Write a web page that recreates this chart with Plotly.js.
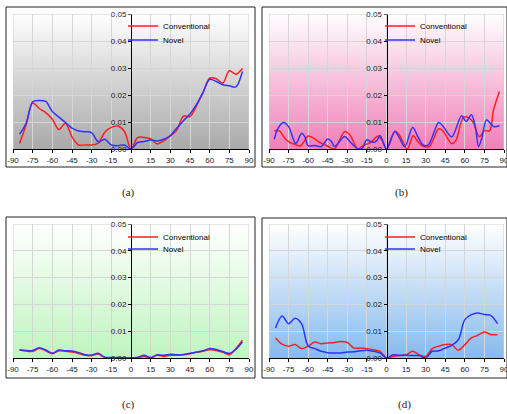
<!DOCTYPE html>
<html><head><meta charset="utf-8">
<script src="https://cdn.plot.ly/plotly-3.0.1.min.js"></script>
<style>html,body{margin:0;padding:0;background:#fff;}#chart{width:507px;height:414px;}</style>
</head><body><div id="chart"></div>
<script>
// ---------------- data ----------------
const angles = [-85,-80,-75,-70,-65,-60,-55,-50,-45,-40,-35,-30,-25,-20,-15,-10,-5,0,5,10,15,20,25,30,35,40,45,50,55,60,65,70,75,80,85];
const xTicks = [-90,-75,-60,-45,-30,-15,0,15,30,45,60,75,90];
const yTicks = [0,0.01,0.02,0.03,0.04,0.05];
const seriesNames = ['Conventional','Novel'];
const panelLabels = ['(a)','(b)','(c)','(d)'];

// (a)
const aConv  = [0.0020,0.0090,0.0170,0.0150,0.0135,0.0110,0.0072,0.0095,0.0045,0.0015,0.0015,0.0015,0.0022,0.0062,0.0080,0.0085,0.0065,0,0.0042,0.0043,0.0038,0.0019,0.0030,0.0048,0.0070,0.0122,0.0120,0.0160,0.0210,0.0262,0.0260,0.0244,0.0290,0.0277,0.0298];
const aNovel = [0.0055,0.0095,0.0175,0.0180,0.0176,0.0139,0.0118,0.0098,0.0077,0.0067,0.0064,0.0060,0.0027,0.0036,0.0015,0.0012,0.0015,0,0.0024,0.0028,0.0033,0.0030,0.0036,0.0050,0.0078,0.0105,0.0130,0.0165,0.0210,0.0258,0.0250,0.0238,0.0234,0.0230,0.0287];

// (b)
const bConvX  = [-86,-82,-78,-74,-70,-66,-60,-56,-51,-46,-40,-32,-28,-22,-18,-12,-6.5,-3.5,0,6.5,10,16,20.5,24,29,33,40,43,50,53,59,63,66.5,71,75,79,82,86.5];
const bConvY  = [0.0068,0.0067,0.0040,0.0024,0.0017,0.0011,0.0048,0.0040,0.0024,0.0013,0.0000,0.0065,0.0052,0.0000,0.0012,0.0025,0.0048,0.0033,0,0.0066,0.0050,0.0000,0.0050,0.0027,0.0008,0.0010,0.0075,0.0068,0.0020,0.0030,0.0118,0.0115,0.0098,0.0045,0.0067,0.0068,0.0145,0.0213];
const bNovelX = [-86,-83,-79,-75,-69.5,-65,-62.5,-60,-55,-50,-45,-42,-40,-32,-28,-22,-19,-15,-11,-7.5,-5,-2.5,0,6.5,10,14,20,24,28,32,40,43.5,50,57.5,61,65,68,70.5,73,76.5,79,82,86.5];
const bNovelY = [0.0036,0.0077,0.0098,0.0083,0.0020,0.0058,0.0045,0.0012,0.0013,0.0009,0.0037,0.0027,0.0009,0.0046,0.0027,0.0001,0.0000,0.0034,0.0025,0.0030,0.0050,0.0025,0,0.0065,0.0040,0.0008,0.0080,0.0046,0.0015,0.0015,0.0098,0.0083,0.0045,0.0123,0.0102,0.0127,0.0083,0.0009,0.0040,0.0108,0.0098,0.0083,0.0086];

// (c)
const cConv  = [0.0030,0.0026,0.0025,0.0035,0.0027,0.0016,0.0027,0.0025,0.0022,0.0017,0.0010,0.0009,0.0015,0.0002,0.0001,0.0001,0.0001,0,0.0002,0.0006,0.0000,0.0010,0.0006,0.0010,0.0010,0.0012,0.0016,0.0021,0.0025,0.0031,0.0028,0.0021,0.0012,0.0035,0.0066];
const cNovel = [0.0031,0.0028,0.0028,0.0038,0.0030,0.0018,0.0030,0.0027,0.0026,0.0020,0.0012,0.0011,0.0018,0.0003,0.0002,0.0002,0.0001,0,0.0002,0.0010,0.0002,0.0012,0.0010,0.0014,0.0012,0.0013,0.0018,0.0022,0.0027,0.0035,0.0032,0.0024,0.0017,0.0033,0.0060];

// (d)
const dConv  = [0.0075,0.0052,0.0044,0.0050,0.0035,0.0044,0.0060,0.0053,0.0056,0.0058,0.0062,0.0058,0.0037,0.0037,0.0035,0.0031,0.0025,0,0.0006,0.0009,0.0012,0.0025,0.0012,0.0006,0.0035,0.0044,0.0050,0.0050,0.0029,0.0050,0.0075,0.0085,0.0097,0.0087,0.0087];
const dNovel = [0.0112,0.0157,0.0128,0.0148,0.0127,0.0045,0.0035,0.0025,0.0020,0.0019,0.0019,0.0022,0.0023,0.0027,0.0029,0.0025,0.0019,0,0.0012,0.0010,0.0010,0.0009,0.0009,0.0000,0.0025,0.0027,0.0037,0.0047,0.0068,0.0143,0.0162,0.0168,0.0162,0.0158,0.0128];

// ---------------- layout helpers ----------------
const W = 507, H = 414;
const px = v => v / W;
const py = v => 1 - v / H;
const FONT = 'Liberation Sans, Arial, sans-serif';
const colors = ['rgb(255,30,30)', 'rgb(50,50,255)'];

const panels = [
  {plot:[13,249,14,149],  frame:[6,255,7,167],   legX:123, legY:[26,40],  label:[128,192], grad:'#a9a9a9',
   series:[{x:angles,y:aConv},{x:angles,y:aNovel}]},
  {plot:[269,504,14,149], frame:[262,507,7,167], legX:380, legY:[26,40],  label:[401,192], grad:'#f080b8',
   series:[{x:bConvX,y:bConvY},{x:bNovelX,y:bNovelY}]},
  {plot:[13,249,224,358], frame:[6,255,217,378], legX:123, legY:[237,249], label:[128,404], grad:'#bff5bf',
   series:[{x:angles,y:cConv},{x:angles,y:cNovel}]},
  {plot:[269,504,224,358],frame:[262,507,218,378],legX:380, legY:[237,249], label:[404,404], grad:'#86baee',
   series:[{x:angles,y:dConv},{x:angles,y:dNovel}]}
];

function gradURL(bottom) {
  const c = document.createElement('canvas');
  c.width = 4; c.height = 256;
  const g = c.getContext('2d');
  const gr = g.createLinearGradient(0, 0, 0, 256);
  gr.addColorStop(0, '#ffffff');
  gr.addColorStop(1, bottom);
  g.fillStyle = gr;
  g.fillRect(0, 0, 4, 256);
  return c.toDataURL('image/png');
}

const traces = [];
const layout = {
  width: W, height: H, autosize: false,
  margin: {l:0, r:0, t:0, b:0, pad:0},
  paper_bgcolor: '#ffffff', plot_bgcolor: 'rgba(0,0,0,0)',
  showlegend: true,
  shapes: [], annotations: [], images: [],
  font: {family: FONT, size: 8, color: '#222'}
};

const xMin = xTicks[0], xMax = xTicks[xTicks.length-1];
const yMin = yTicks[0], yMax = yTicks[yTicks.length-1];

panels.forEach((p, i) => {
  const n = i + 1;
  const xid = n === 1 ? 'x' : 'x' + n;
  const yid = n === 1 ? 'y' : 'y' + n;
  const xkey = n === 1 ? 'xaxis' : 'xaxis' + n;
  const ykey = n === 1 ? 'yaxis' : 'yaxis' + n;
  const xd = [px(p.plot[0]), px(p.plot[1])];
  const yd = [py(p.plot[3]), py(p.plot[2])];
  const zeroPos = xd[0] + (0 - xMin) / (xMax - xMin) * (xd[1] - xd[0]);

  layout[xkey] = {
    domain: xd, anchor: yid, range: [xMin, xMax],
    tickmode: 'array', tickvals: xTicks, ticktext: xTicks.map(String),
    showgrid: true, gridcolor: '#d6d6d6', gridwidth: 1, zeroline: false,
    showline: true, linecolor: '#000', linewidth: 1,
    ticks: 'outside', ticklen: 3, tickcolor: '#000', tickwidth: 1,
    ticklabeloverflow: 'allow',
    tickfont: {family: FONT, size: 8, color: '#222'}, fixedrange: true
  };
  layout[ykey] = {
    domain: yd, anchor: 'free', position: zeroPos, range: [yMin, yMax],
    tickmode: 'array', tickvals: yTicks, ticktext: yTicks.map(v => v.toFixed(2)),
    showgrid: true, gridcolor: '#d6d6d6', gridwidth: 1, zeroline: false,
    showline: true, linecolor: '#000', linewidth: 1,
    ticks: 'outside', ticklen: 3, tickcolor: '#000', tickwidth: 1,
    ticklabeloverflow: 'allow',
    tickfont: {family: FONT, size: 8, color: '#222'}, fixedrange: true
  };

  // gradient background of the plot area
  layout.images.push({
    source: gradURL(p.grad), xref: xid, yref: yid,
    x: xMin, y: yMax, sizex: xMax - xMin, sizey: yMax - yMin,
    xanchor: 'left', yanchor: 'top', sizing: 'stretch', layer: 'below'
  });

  // light border of plot area (top, left, right)
  [[xMin, yMax, xMax, yMax], [xMin, yMin, xMin, yMax], [xMax, yMin, xMax, yMax]].forEach(s => {
    layout.shapes.push({type:'line', xref:xid, yref:yid, x0:s[0], y0:s[1], x1:s[2], y1:s[3],
      line:{color:'#cfcfcf', width:1}, layer:'above'});
  });

  // outer chart frame
  layout.shapes.push({type:'rect', xref:'paper', yref:'paper',
    x0: px(p.frame[0]), x1: px(p.frame[1]), y0: py(p.frame[3]), y1: py(p.frame[2]),
    line:{color:'#222', width:1}, layer:'below'});

  // panel label
  layout.annotations.push({text: panelLabels[i], xref:'paper', yref:'paper',
    x: px(p.label[0]), y: py(p.label[1]), xanchor:'center', yanchor:'middle', showarrow:false,
    font:{family:'Liberation Serif, Times New Roman, serif', size:11, color:'#222'}});

  p.series.forEach((s, k) => {
    const ln = 2 * i + k + 1;
    const lid = ln === 1 ? 'legend' : 'legend' + ln;
    traces.push({
      type: 'scatter', mode: 'lines', name: seriesNames[k],
      x: s.x, y: s.y, xaxis: xid, yaxis: yid,
      line: {color: colors[k], width: 1.5, shape: 'spline', smoothing: 0.9},
      legend: lid, showlegend: true, hoverinfo: 'skip'
    });
    layout[lid] = {
      x: px(p.legX), y: py(p.legY[k]), xanchor: 'left', yanchor: 'middle',
      xref: 'paper', yref: 'paper',
      bgcolor: 'rgba(0,0,0,0)', borderwidth: 0,
      font: {family: FONT, size: 8, color: '#000'}
    };
  });
});

Plotly.newPlot('chart', traces, layout, {staticPlot: true, displayModeBar: false});
</script>
</body></html>
